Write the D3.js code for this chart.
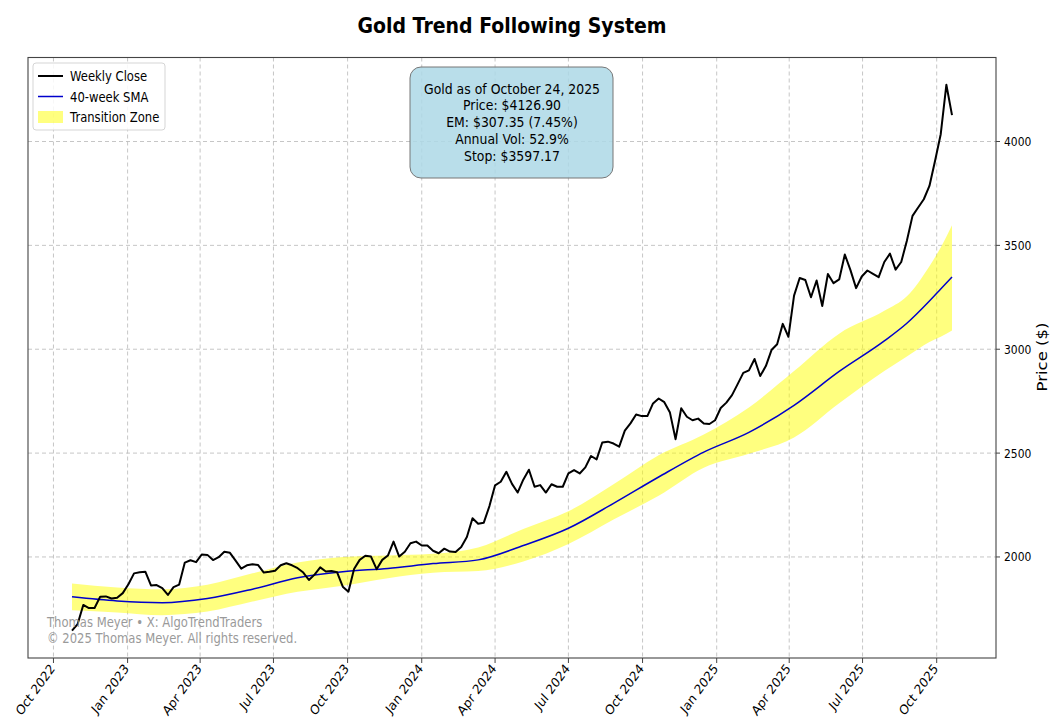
<!DOCTYPE html>
<html>
<head>
<meta charset="utf-8">
<script src="https://cdn.jsdelivr.net/npm/d3@7/dist/d3.min.js"></script>
<style>
  html, body { margin: 0; padding: 0; background: #fff; }
  svg { display: block; font-family: "DejaVu Sans", sans-serif; }
</style>
</head>
<body>
<div id="chart"></div>
<script>
// Weekly gold closes, 40-week SMA and transition zone
const weekStart = "2022-10-24";
const weeklyClose = [
  1645, 1677, 1769, 1754, 1754, 1809, 1810, 1800, 1804, 1826,
  1869, 1921, 1926, 1929, 1863, 1865, 1850, 1817, 1855, 1867,
  1973, 1984, 1975, 2012, 2010, 1985, 1999, 2025, 2020, 1982,
  1944, 1960, 1965, 1961, 1925, 1929, 1934, 1960, 1970, 1960,
  1946, 1925, 1889, 1915, 1950, 1930, 1932, 1926, 1857, 1833,
  1942, 1986, 2006, 2002, 1941, 1986, 2007, 2074, 2002, 2025,
  2066, 2074, 2055, 2055, 2030, 2018, 2040, 2026, 2024, 2048,
  2096, 2186, 2160, 2165, 2245, 2345, 2362, 2410, 2352, 2310,
  2372, 2420, 2338, 2346, 2310, 2350, 2338, 2338, 2402, 2418,
  2402, 2431, 2486, 2470, 2551, 2555, 2546, 2531, 2608, 2643,
  2686, 2678, 2678, 2739, 2763, 2745, 2695, 2567, 2716, 2675,
  2658, 2666, 2643, 2640, 2658, 2717, 2743, 2779, 2832, 2886,
  2898, 2953, 2871, 2919, 2996, 3024, 3122, 3060, 3258, 3343,
  3333, 3250, 3331, 3208, 3362, 3318, 3336, 3456, 3381, 3294,
  3350, 3379, 3363, 3347, 3420, 3460, 3383, 3420, 3522, 3642,
  3682, 3722, 3786, 3907, 4035, 4273, 4127
];

// SMA and zone sampled at these week numbers
const bandWeeks = [0, 8, 16, 24, 32, 40, 48, 56, 64, 72, 80, 88, 96, 104, 112, 120, 128, 136, 144, 148, 152, 154, 156];
const smaValues = [1808, 1788, 1780, 1800, 1845, 1900, 1929, 1945, 1968, 1986, 2055, 2138, 2258, 2385, 2505, 2600, 2730, 2893, 3040, 3125, 3232, 3290, 3348];
const bandUpper = [1872, 1853, 1844, 1866, 1921, 1973, 2000, 2007, 2015, 2046, 2135, 2220, 2350, 2490, 2590, 2720, 2895, 3075, 3185, 3255, 3400, 3490, 3597];
const bandLower = [1744, 1733, 1720, 1737, 1785, 1832, 1862, 1898, 1924, 1932, 1978, 2062, 2180, 2295, 2430, 2497, 2575, 2740, 2895, 2965, 3035, 3060, 3090];

const yTicks = [2000, 2500, 3000, 3500, 4000];
const legendLabels = ["Weekly Close", "40-week SMA", "Transition Zone"];
const infoLines = [
  "Gold as of October 24, 2025",
  "Price: $4126.90",
  "EM: $307.35 (7.45%)",
  "Annual Vol: 52.9%",
  "Stop: $3597.17"
];
const creditLines = ["Thomas Meyer \u2022 X: AlgoTrendTraders", "\u00a9 2025 Thomas Meyer. All rights reserved."];

const W = 1064, H = 724;
const m = { left: 28, right: 996, top: 57.5, bottom: 658 };
const SQ = 0.86; // reference text is horizontally squeezed

const start = d3.utcParse("%Y-%m-%d")(weekStart);
const dateOf = (i) => d3.utcDay.offset(start, 7 * i);
const closeData = weeklyClose.map((v, i) => ({ date: dateOf(i), v }));
const bandData = bandWeeks.map((w, i) => ({
  date: dateOf(w), sma: smaValues[i], hi: bandUpper[i], lo: bandLower[i]
}));

const d0 = closeData[0].date, d1 = closeData[closeData.length - 1].date;
const xPad = (d1 - d0) * 0.05;
const x = d3.scaleUtc()
  .domain([new Date(+d0 - xPad), new Date(+d1 + xPad)])
  .range([m.left, m.right]);

const [vMin, vMax] = d3.extent(weeklyClose);
const yPad = (vMax - vMin) * 0.05;
const y = d3.scaleLinear()
  .domain([vMin - yPad, vMax + yPad])
  .range([m.bottom, m.top]);

const svg = d3.select("#chart").append("svg")
  .attr("width", W).attr("height", H)
  .attr("viewBox", `0 0 ${W} ${H}`);

function sqText(parent, tx, ty, str, opts = {}) {
  const t = parent.append("text")
    .attr("transform", `translate(${tx},${ty}) scale(${SQ},1)${opts.rotate ? ` rotate(${opts.rotate})` : ""}`)
    .attr("font-size", opts.size || 13.5)
    .attr("fill", opts.fill || "#000")
    .attr("text-anchor", opts.anchor || "start")
    .text(str);
  if (opts.weight) t.attr("font-weight", opts.weight);
  return t;
}

// Title
sqText(svg, 512, 33, "Gold Trend Following System", { size: 22, weight: "bold", anchor: "middle" });

// Grid
const xTicks = d3.utcMonth.every(3).range(d3.utcMonth.ceil(x.domain()[0]), x.domain()[1]);
const grid = svg.append("g")
  .attr("stroke", "#b8b8b8")
  .attr("stroke-width", 0.8)
  .attr("stroke-dasharray", "4,3");
grid.selectAll("line.gx").data(xTicks).enter().append("line")
  .attr("x1", (d) => x(d)).attr("x2", (d) => x(d))
  .attr("y1", m.top).attr("y2", m.bottom);
grid.selectAll("line.gy").data(yTicks).enter().append("line")
  .attr("x1", m.left).attr("x2", m.right)
  .attr("y1", (d) => y(d)).attr("y2", (d) => y(d));

// Transition zone
const area = d3.area()
  .x((d) => x(d.date))
  .y0((d) => y(d.lo))
  .y1((d) => y(d.hi))
  .curve(d3.curveMonotoneX);
svg.append("path")
  .datum(bandData)
  .attr("d", area)
  .attr("fill", "#ffff00")
  .attr("fill-opacity", 0.5);

// SMA
svg.append("path")
  .datum(bandData)
  .attr("d", d3.line().x((d) => x(d.date)).y((d) => y(d.sma)).curve(d3.curveMonotoneX))
  .attr("fill", "none")
  .attr("stroke", "#0000cc")
  .attr("stroke-width", 1.5);

// Weekly close
svg.append("path")
  .datum(closeData)
  .attr("d", d3.line().x((d) => x(d.date)).y((d) => y(d.v)))
  .attr("fill", "none")
  .attr("stroke", "#000")
  .attr("stroke-width", 2)
  .attr("stroke-linejoin", "round");

// Frame
svg.append("rect")
  .attr("x", m.left).attr("y", m.top)
  .attr("width", m.right - m.left).attr("height", m.bottom - m.top)
  .attr("fill", "none").attr("stroke", "#444").attr("stroke-width", 1.1);

// X axis ticks + labels
const xa = svg.append("g");
xa.selectAll("line").data(xTicks).enter().append("line")
  .attr("x1", (d) => x(d)).attr("x2", (d) => x(d))
  .attr("y1", m.bottom).attr("y2", m.bottom + 5)
  .attr("stroke", "#444");
const fmt = d3.utcFormat("%b %Y");
xTicks.forEach((d) => {
  sqText(xa, x(d) + 2, m.bottom + 11, fmt(d), { size: 13.5, anchor: "end", rotate: -50 });
});

// Y axis (right side)
const ya = svg.append("g");
ya.selectAll("line").data(yTicks).enter().append("line")
  .attr("x1", m.right).attr("x2", m.right + 4)
  .attr("y1", (d) => y(d)).attr("y2", (d) => y(d))
  .attr("stroke", "#444");
yTicks.forEach((d) => {
  sqText(ya, m.right + 8, y(d) + 4.5, String(d), { size: 12.5 });
});
sqText(svg, 1047, 357, "Price ($)", { size: 16.5, anchor: "middle", rotate: -90 });

// Legend
const lg = svg.append("g");
lg.append("rect")
  .attr("x", 33).attr("y", 63).attr("width", 132).attr("height", 67)
  .attr("rx", 3).attr("fill", "#fff").attr("fill-opacity", 0.85)
  .attr("stroke", "#d5d5d5");
const rowY = (i) => 76 + i * 20.5;
lg.append("line").attr("x1", 38).attr("x2", 63).attr("y1", rowY(0)).attr("y2", rowY(0))
  .attr("stroke", "#000").attr("stroke-width", 2);
lg.append("line").attr("x1", 38).attr("x2", 63).attr("y1", rowY(1)).attr("y2", rowY(1))
  .attr("stroke", "#0000cc").attr("stroke-width", 1.5);
lg.append("rect").attr("x", 38).attr("y", rowY(2) - 6).attr("width", 25).attr("height", 12)
  .attr("fill", "#ffff00").attr("fill-opacity", 0.5);
legendLabels.forEach((s, i) => sqText(lg, 70, rowY(i) + 5, s, { size: 13.5 }));

// Info box
const ib = svg.append("g");
ib.append("rect")
  .attr("x", 410).attr("y", 67).attr("width", 203).attr("height", 111)
  .attr("rx", 11).attr("fill", "#add8e6").attr("fill-opacity", 0.85)
  .attr("stroke", "#777").attr("stroke-width", 1);
infoLines.forEach((s, i) => sqText(ib, 512, 93.5 + i * 16.8, s, { size: 14.5, anchor: "middle" }));

// Credits
creditLines.forEach((s, i) => sqText(svg, 47, 627 + i * 16, s, { size: 13.5, fill: "#9a9a9a" }));
</script>
</body>
</html>
